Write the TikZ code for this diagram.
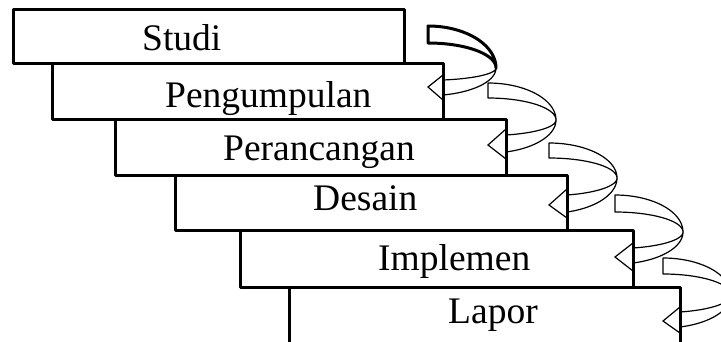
\documentclass[tikz,border=0pt]{standalone}
\usepackage{fontspec}
\setmainfont{Liberation Serif}
\tikzset{
  stepframe/.style={line width=3pt, line join=round},
  ribbon/.style={draw=black, fill=white, line width=1.2pt, line join=round},
  boldband/.style={line width=3pt},
  headtip/.style={line width=1.2pt, line join=miter},
  label/.style={anchor=base west, inner sep=0pt, font=\fontsize{37.5}{44}\selectfont}
}
% Curved ribbon arrow: #1 left x, #2 top y, #3 band width, #4 turning y,
% #5 x where it enters the next step, #6/#7 upper/lower edge y there, #8 extra style of the upper band
\newcommand\curvedribbon[8]{%
  \pgfmathsetmacro\rTop{#4-#2}%
  \pgfmathsetmacro\rIn{#4-#2-#3}%
  \pgfmathsetmacro\tEnd{acos((#5-#1)/68)}%
  \pgfmathsetmacro\rUp{(#6-#4)/sin(\tEnd)}%
  \pgfmathsetmacro\rLow{(#7-#4)/sin(\tEnd)}%
  \draw[ribbon] plot[domain=0:\tEnd, samples=40] ({#1+68*cos(\x)},{#4+\rLow*sin(\x)})
    -- plot[domain=\tEnd:0, samples=40] ({#1+68*cos(\x)},{#4+\rUp*sin(\x)}) -- cycle;
  \draw[ribbon,#8] plot[domain=90:0, samples=40] ({#1+68*cos(\x)},{#4-\rTop*sin(\x)})
    -- plot[domain=0:90, samples=40] ({#1+68*cos(\x)},{#4-\rIn*sin(\x)}) -- cycle;
}
\begin{document}
\begin{tikzpicture}[x=1pt, y=-1pt]
\useasboundingbox (0,0) rectangle (721,341);
\clip (0,0) rectangle (721,341);
\fill[white] (0,0) rectangle (721,341);

% ribbons between the steps
\curvedribbon{428}{26}{17}{68}{443}{80}{95}{boldband}
\curvedribbon{488}{83}{15}{120}{506}{135}{152}{}
\curvedribbon{549}{143}{15}{178}{567}{195}{212}{}
\curvedribbon{615}{195}{17}{232}{633}{248}{263}{}
\curvedribbon{663}{258}{16}{295}{680}{312}{327}{}

% the steps
\draw[stepframe] (13,9) rectangle (404,63);
\draw[stepframe] (52,63) rectangle (443,119);
\draw[stepframe] (115,119) rectangle (506,175);
\draw[stepframe] (175,175) rectangle (567,230);
\draw[stepframe] (240,230) rectangle (633,287);
\draw[stepframe] (289,350) -- (289,287) -- (680,287) -- (680,350);

% arrow heads entering each step
\draw[headtip] (443,75) -- (428,87) -- (443,100);
\draw[headtip] (506,129) -- (488,145) -- (506,159);
\draw[headtip] (567,189) -- (549,205) -- (567,218);
\draw[headtip] (633,243) -- (615,257) -- (633,271);
\draw[headtip] (680,307) -- (663,321) -- (680,333);

% step labels
\node[label] (studi) at (142,50) {Studi};
\node[label] (pengumpulan) at (165,107) {Pengumpulan};
\node[label] (perancangan) at (223,160) {Perancangan};
\node[label] (desain) at (313,210) {Desain};
\node[label] (implemen) at (378,270) {Implemen};
\node[label] (lapor) at (448,323) {Lapor};
\end{tikzpicture}
\end{document}
